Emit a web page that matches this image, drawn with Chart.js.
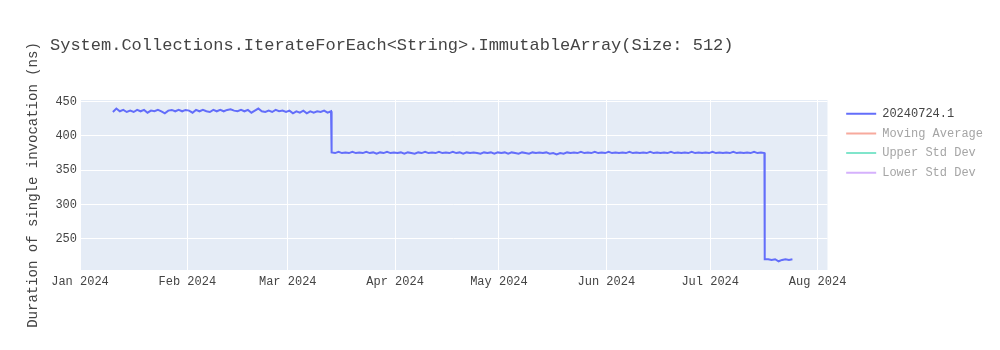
<!DOCTYPE html>
<html>
<head>
<meta charset="utf-8">
<script src="https://cdn.jsdelivr.net/npm/chart.js@4.4.1/dist/chart.umd.min.js"></script>
<style>
  body { margin: 0; background: #fff; }
  #wrap { position: relative; width: 1000px; height: 350px; }
  #title {
    position: absolute; left: 50px; top: 37px;
    font: 17px/17px 'Courier New', 'Liberation Mono', monospace;
    color: #444; white-space: pre;
  }
</style>
</head>
<body>
<div id="wrap">
  <canvas id="chart" width="1000" height="350"></canvas>
  <div id="title">System.Collections.IterateForEach&lt;String&gt;.ImmutableArray(Size: 512)</div>
</div>
<script>
// run label
const seriesLabel = '20240724.1';
const hiddenLabels = ['Moving Average', 'Upper Std Dev', 'Lower Std Dev'];

// daily results, each block starts at its own date
const phase1Start = '2024-01-10T12:00:00Z';
const phase1 = [
  435, 440, 436, 438, 435, 437, 435, 438, 436, 438, 434, 437, 436, 438, 436, 433,
  437, 438, 436, 438, 436, 438, 437, 434, 438, 436, 438, 436, 435, 438, 436, 438,
  436, 438, 439, 437, 436, 438, 436, 438, 434, 437, 440, 436, 435, 437, 435, 438,
  436, 437, 435, 437, 433, 436, 434, 437, 433, 436, 434, 436, 435, 437, 434, 436
];
const phase2Start = '2024-03-13T16:00:00Z';
const phase2 = [
  376, 375, 377, 375, 376, 375, 377, 375, 376, 375,
  377, 375, 376, 374, 376, 375, 377, 375, 376, 375,
  376, 374, 376, 375, 374, 376, 375, 377, 375, 376,
  375, 377, 375, 376, 375, 377, 375, 376, 374, 376,
  375, 376, 375, 374, 376, 375, 376, 374, 376, 375,
  376, 374, 376, 375, 374, 376, 375, 374, 376, 375,
  376, 375, 376, 374, 375, 373, 375, 374, 376, 375,
  376, 375, 377, 375, 376, 375, 377, 375, 376, 375,
  377, 375, 376, 375, 376, 375, 377, 375, 376, 375,
  376, 375, 377, 375, 376, 375, 376, 375, 377, 375,
  376, 375, 376, 375, 377, 375, 376, 375, 376, 375,
  377, 375, 376, 375, 376, 375, 377, 375, 376, 375,
  376, 375, 377, 375, 376, 375
];
const phase3Start = '2024-07-16T18:00:00Z';
const phase3 = [220, 220, 219, 220, 217, 219, 220, 219, 220];

// axes
const xTickDates = ['2024-01-01', '2024-02-01', '2024-03-01', '2024-04-01', '2024-05-01', '2024-06-01', '2024-07-01', '2024-08-01'];
const xTickLabels = ['Jan 2024', 'Feb 2024', 'Mar 2024', 'Apr 2024', 'May 2024', 'Jun 2024', 'Jul 2024', 'Aug 2024'];
const xRange = ['2024-01-01', '2024-08-03T21:00:00Z'];
const yTicks = [250, 300, 350, 400, 450];
const yRange = [204.3, 452.5];

const FONT = "'Courier New', 'Liberation Mono', monospace";
const origin = Date.parse('2024-01-01T00:00:00Z');
const dayOf = s => (Date.parse(s.length === 10 ? s + 'T00:00:00Z' : s) - origin) / 86400000;

const points = [];
[[phase1Start, phase1], [phase2Start, phase2], [phase3Start, phase3]].forEach(([start, vals]) => {
  const d0 = dayOf(start);
  vals.forEach((v, i) => points.push({ x: d0 + i, y: v }));
});

// plot background
const plotBg = {
  id: 'plotBg',
  beforeDraw(chart) {
    const { ctx, chartArea: a } = chart;
    ctx.save();
    ctx.fillStyle = '#e5ecf6';
    ctx.fillRect(a.left, a.top, a.right - a.left, a.bottom - a.top);
    ctx.restore();
  }
};

const legendColors = ['#636efa', '#f7aa9d', '#80e5cb', '#d5b1fc'];

new Chart(document.getElementById('chart'), {
  type: 'line',
  data: {
    datasets: [
      {
        label: seriesLabel,
        data: points,
        borderColor: '#636efa',
        borderWidth: 2,
        pointRadius: 0,
        tension: 0
      },
      ...hiddenLabels.map(l => ({ label: l, data: [], hidden: true }))
    ]
  },
  options: {
    responsive: false,
    animation: false,
    layout: { padding: { left: 20, right: 7, top: 100, bottom: 0 } },
    plugins: {
      tooltip: { enabled: false },
      legend: {
        position: 'right',
        align: 'start',
        maxWidth: 160,
        labels: {
          boxWidth: 30,
          boxHeight: 2,
          padding: 7.7,
          font: { family: FONT, size: 12 },
          generateLabels: chart => chart.data.datasets.map((ds, i) => ({
            text: ds.label,
            fillStyle: legendColors[i],
            strokeStyle: legendColors[i],
            lineWidth: 0,
            hidden: false,
            fontColor: ds.hidden ? '#a5a5a5' : '#444',
            datasetIndex: i
          }))
        }
      }
    },
    scales: {
      x: {
        type: 'linear',
        min: dayOf(xRange[0]),
        max: dayOf(xRange[1]),
        afterFit: s => { s.height = 80; },
        afterBuildTicks: s => { s.ticks = xTickDates.map(d => ({ value: dayOf(d) })); },
        grid: { color: '#fff', lineWidth: 1, drawTicks: false },
        border: { display: false },
        ticks: {
          autoSkip: false, maxRotation: 0, padding: 5,
          color: '#444', font: { family: FONT, size: 12 },
          callback: (v, i) => xTickLabels[i]
        }
      },
      y: {
        min: yRange[0],
        max: yRange[1],
        afterFit: s => { s.width = 60; },
        afterBuildTicks: s => { s.ticks = yTicks.map(v => ({ value: v })); },
        grid: { color: '#fff', lineWidth: 1, drawTicks: false },
        border: { display: false },
        ticks: {
          padding: 3,
          color: '#444', font: { family: FONT, size: 12 },
          callback: (v, i) => String(yTicks[i])
        },
        title: {
          display: true,
          text: 'Duration of single invocation (ns)',
          color: '#444',
          font: { family: FONT, size: 14 },
          padding: { top: 5 }
        }
      },
      pad: {
        position: 'right',
        display: true,
        afterFit: s => { s.width = 11; },
        grid: { display: false },
        border: { display: false },
        ticks: { display: false }
      }
    }
  },
  plugins: [plotBg]
});
</script>
</body>
</html>
